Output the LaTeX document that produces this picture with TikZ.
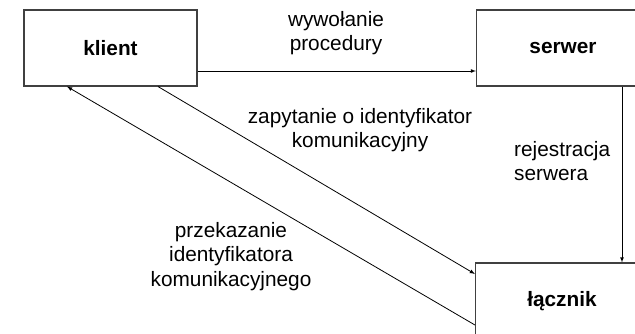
\documentclass[tikz,border=0pt]{standalone}
\usepackage{fontspec}
\setmainfont{Liberation Sans}
\usepackage{tikz}
\usetikzlibrary{calc}

\begin{document}
\begin{tikzpicture}[x=1pt,y=-1pt,>=latex,
        box/.style={draw=black!75, line width=1.1pt, minimum width=173pt, minimum height=76pt, font=\fontsize{20.8}{24.5}\selectfont\bfseries},
        lbl/.style={inner sep=0pt, align=center, font=\fontsize{20.8}{24.5}\selectfont},
        arr/.style={->, line width=0.8pt}]
        \clip (0,0) rectangle (635,334);
        \node[box] (klient) at (110.5,48) {klient};
        \node[box] (serwer) at (563,48) {serwer};
        \node[box] (lacznik) at (562,301) {łącznik};
        \draw [arr] ([yshift=-23pt]klient.east) -- ([yshift=-23pt]serwer.west);
        \draw [arr] ([xshift=59pt]serwer.south) -- ([xshift=60pt]lacznik.north);
        \draw [arr] ([xshift=47.5pt]klient.south) -- ([yshift=27pt]lacznik.west);
        \draw [arr] ([yshift=-24pt]lacznik.west) -- ([xshift=-43.5pt]klient.south);
        \node[lbl, anchor=north] (wyw) at (336,11) {wywołanie\\procedury};
        \node[lbl, anchor=north] (zap) at (360,108) {zapytanie o identyfikator\\komunikacyjny};
        \node[lbl, anchor=north west, align=left] (rej) at (514,141) {rejestracja\\serwera};
        \node[lbl, anchor=north] (prz) at (231,222) {przekazanie\\identyfikatora\\komunikacyjnego};
      \end{tikzpicture}
\end{document}
